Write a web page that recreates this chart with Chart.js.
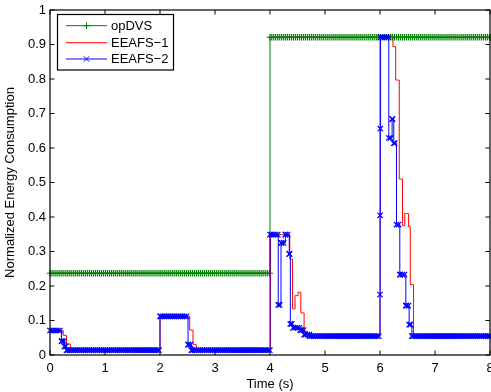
<!DOCTYPE html>
<html>
<head>
<meta charset="utf-8">
<script src="https://cdn.jsdelivr.net/npm/chart.js@4.4.1/dist/chart.umd.min.js"></script>
<style>
html,body{margin:0;padding:0;background:#ffffff;}
#wrap{width:491px;height:392px;}
</style>
</head>
<body>
<div id="wrap"><canvas id="c" width="491" height="392"></canvas></div>
<script>
// ---- data ----
const xTicks = [0, 1, 2, 3, 4, 5, 6, 7, 8];
const xTickLabels = ['0', '1', '2', '3', '4', '5', '6', '7', '8'];
const yTicks = [0, 0.1, 0.2, 0.3, 0.4, 0.5, 0.6, 0.7, 0.8, 0.9, 1];
const yTickLabels = ['0', '0.1', '0.2', '0.3', '0.4', '0.5', '0.6', '0.7', '0.8', '0.9', '1'];
const seriesNames = ['opDVS', 'EEAFS\u22121', 'EEAFS\u22122'];
const xTitle = 'Time (s)';
const yTitle = 'Normalized Energy Consumption';

// sampling period of the recorded series (marker spacing) and end time
const samplePeriod = 0.036;
const timeEnd = 8;

// stairs: [time, value] — value holds from this time until the next entry
const opdvsSteps = [[0, 0.237], [4.0, 0.921]];

const eeafs1Steps = [
  [0, 0.071], [0.24, 0.057], [0.30, 0.032], [0.37, 0.014],
  [2.0, 0.112], [2.54, 0.072], [2.60, 0.030], [2.66, 0.014],
  [4.01, 0.349], [4.36, 0.278], [4.41, 0.134], [4.455, 0.172], [4.51, 0.182],
  [4.56, 0.122], [4.62, 0.069], [4.68, 0.058], [4.72, 0.055],
  [6.0, 0.921], [6.236, 0.894], [6.285, 0.797], [6.35, 0.51], [6.41, 0.375],
  [6.45, 0.41], [6.52, 0.372], [6.55, 0.204], [6.61, 0.055]
];

const eeafs2Steps = [
  [0, 0.071], [0.21, 0.040], [0.26, 0.025], [0.30, 0.014],
  [2.0, 0.112], [2.51, 0.030], [2.57, 0.014],
  [4.0, 0.349], [4.15, 0.145], [4.20, 0.325], [4.28, 0.349], [4.35, 0.293],
  [4.37, 0.090], [4.42, 0.079], [4.55, 0.072], [4.62, 0.059], [4.72, 0.055],
  [6.0, 0.175], [6.003, 0.405], [6.006, 0.656], [6.01, 0.921],
  [6.16, 0.629], [6.22, 0.684], [6.25, 0.614], [6.30, 0.378], [6.36, 0.233],
  [6.47, 0.143], [6.53, 0.088], [6.58, 0.055]
];

// ---- sample each stairs series at the recording times ----
function sampleStairs(steps) {
  const times = [];
  for (let k = 0; k * samplePeriod <= timeEnd + 1e-9; k++) {
    times.push(Math.round(k * samplePeriod * 10000) / 10000);
  }
  times.push(timeEnd);
  steps.forEach(s => times.push(s[0]));
  times.sort((a, b) => a - b);
  const uniq = [];
  times.forEach(t => { if (!uniq.length || Math.abs(t - uniq[uniq.length - 1]) > 1e-6) uniq.push(t); });
  return uniq.map(t => {
    let v = steps[0][1];
    for (const [bt, bv] of steps) { if (bt <= t + 1e-9) v = bv; }
    return { x: t, y: v };
  });
}

const FONT = '"Liberation Sans", Arial, Helvetica, sans-serif';

const framePlugin = {
  id: 'frame',
  afterDatasetsDraw(chart) {
    const { ctx, chartArea: a, scales } = chart;
    ctx.save();
    ctx.strokeStyle = '#000';
    ctx.lineWidth = 1.2;
    ctx.strokeRect(a.left, a.top, a.right - a.left, a.bottom - a.top);
    ctx.lineWidth = 1;
    const tl = 4.5;
    ctx.beginPath();
    xTicks.forEach(v => {
      const px = scales.x.getPixelForValue(v);
      ctx.moveTo(px, a.bottom); ctx.lineTo(px, a.bottom - tl);
      ctx.moveTo(px, a.top); ctx.lineTo(px, a.top + tl);
    });
    yTicks.forEach(v => {
      const py = scales.y.getPixelForValue(v);
      ctx.moveTo(a.left, py); ctx.lineTo(a.left + tl, py);
      ctx.moveTo(a.right, py); ctx.lineTo(a.right - tl, py);
    });
    ctx.stroke();
    ctx.restore();
  }
};

const legendPlugin = {
  id: 'boxLegend',
  afterDraw(chart) {
    const { ctx, chartArea: a } = chart;
    const ds = chart.data.datasets;
    const bx = a.left + 7.5, by = a.top + 4.5, bw = 116, bh = 55.5;
    ctx.save();
    ctx.fillStyle = '#fff';
    ctx.fillRect(bx, by, bw, bh);
    ctx.strokeStyle = '#000';
    ctx.lineWidth = 1.2;
    ctx.strokeRect(bx, by, bw, bh);
    ctx.font = '13px ' + FONT;
    ctx.textBaseline = 'middle';
    ctx.textAlign = 'left';
    const rows = [by + 11.2, by + 28.2, by + 44.5];
    ds.forEach((d, i) => {
      const y = rows[i];
      ctx.strokeStyle = d.borderColor;
      ctx.lineWidth = 1;
      ctx.beginPath();
      ctx.moveTo(bx + 8.5, y); ctx.lineTo(bx + 49.5, y);
      ctx.stroke();
      if (d.pointRadius > 0) {
        ctx.strokeStyle = d.pointBorderColor;
        Chart.helpers.drawPoint(ctx, {
          pointStyle: d.pointStyle, radius: d.pointRadius, borderWidth: d.pointBorderWidth, rotation: 0
        }, bx + 29, y);
      }
      ctx.fillStyle = '#000';
      ctx.fillText(d.label, bx + 53.5, y + 0.5);
    });
    ctx.restore();
  }
};

new Chart(document.getElementById('c'), {
  type: 'line',
  data: {
    datasets: [
      {
        label: seriesNames[0], data: sampleStairs(opdvsSteps), stepped: true,
        borderColor: '#008000', backgroundColor: '#008000', borderWidth: 1,
        pointStyle: 'cross', pointRadius: 3.3, pointBorderWidth: 1.2, pointBorderColor: '#008000',
        pointHoverRadius: 0, order: 3, clip: false, fill: false
      },
      {
        label: seriesNames[1], data: sampleStairs(eeafs1Steps), stepped: true,
        borderColor: '#ff0000', backgroundColor: '#ff0000', borderWidth: 1,
        pointRadius: 0, pointHoverRadius: 0, order: 2, clip: false, fill: false
      },
      {
        label: seriesNames[2], data: sampleStairs(eeafs2Steps), stepped: true,
        borderColor: '#0000ff', backgroundColor: '#0000ff', borderWidth: 1,
        pointStyle: 'crossRot', pointRadius: 3.8, pointBorderWidth: 1.2, pointBorderColor: '#0000ff',
        pointHoverRadius: 0, order: 1, clip: false, fill: false
      }
    ]
  },
  options: {
    responsive: false,
    animation: false,
    devicePixelRatio: 1,
    layout: { autoPadding: false, padding: { top: 10, right: 1, left: 0, bottom: 0 } },
    plugins: { legend: { display: false }, tooltip: { enabled: false } },
    events: [],
    scales: {
      x: {
        type: 'linear', min: 0, max: 8,
        afterBuildTicks: s => { s.ticks = xTicks.map(v => ({ value: v })); },
        afterFit: s => { s.height = 37; s.paddingLeft = 0; s.paddingRight = 0; },
        ticks: {
          callback: (v, i) => xTickLabels[i],
          color: '#000', font: { family: FONT, size: 13 }, padding: 6, maxRotation: 0
        },
        grid: { display: false, drawTicks: false },
        border: { display: false },
        title: { display: true, text: xTitle, color: '#000', font: { family: FONT, size: 13 }, padding: { top: 0, bottom: 0 } }
      },
      y: {
        type: 'linear', min: 0, max: 1,
        afterBuildTicks: s => { s.ticks = yTicks.map(v => ({ value: v })); },
        afterFit: s => { s.width = 50; s.paddingTop = 0; s.paddingBottom = 0; },
        ticks: {
          callback: (v, i) => yTickLabels[i],
          color: '#000', font: { family: FONT, size: 13 }, padding: 4
        },
        grid: { display: false, drawTicks: false },
        border: { display: false },
        title: { display: true, text: yTitle, color: '#000', font: { family: FONT, size: 13 }, padding: { top: 3, bottom: 0 } }
      }
    }
  },
  plugins: [framePlugin, legendPlugin]
});
</script>
</body>
</html>
